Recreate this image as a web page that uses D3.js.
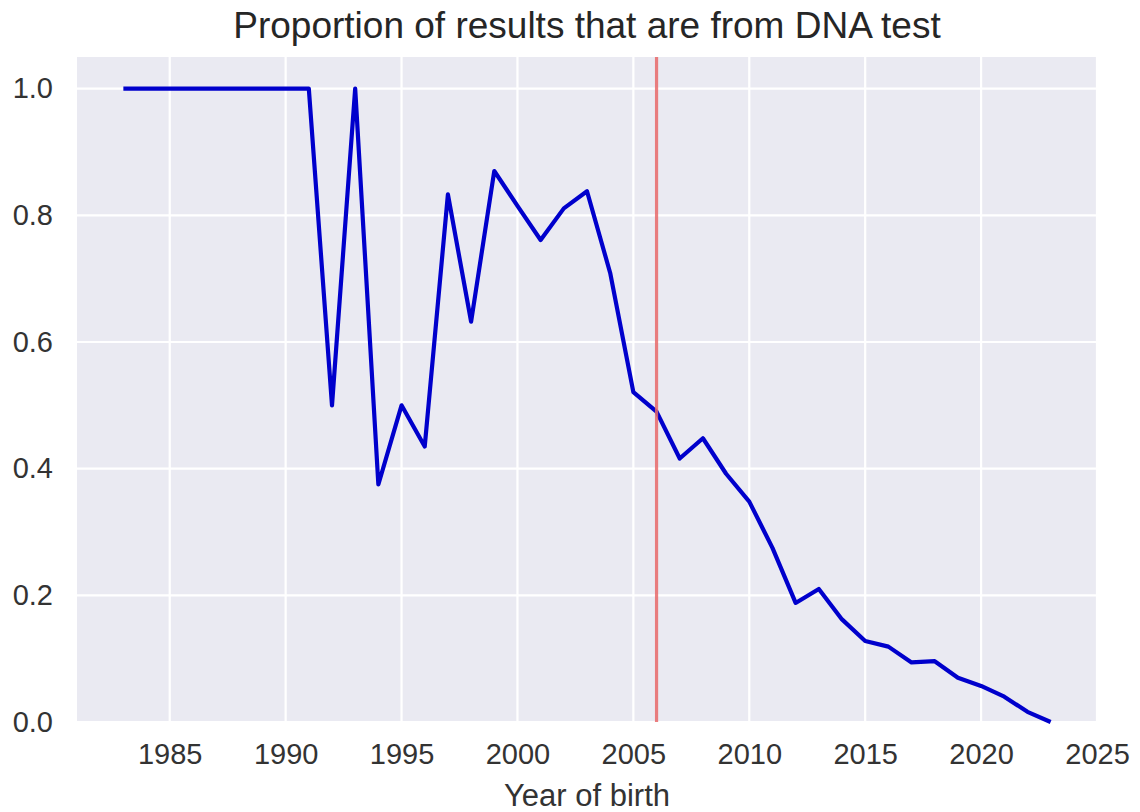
<!DOCTYPE html>
<html>
<head>
<meta charset="utf-8">
<script src="https://cdn.jsdelivr.net/npm/d3@7"></script>
<style>
  html, body { margin: 0; padding: 0; background: #ffffff; }
  svg { display: block; font-family: "Liberation Sans", Arial, Helvetica, sans-serif; }
</style>
</head>
<body>
<svg id="chart" width="1140" height="812"></svg>
<script>
// Year of birth and share of results that came from a DNA test
const years = [1983, 1984, 1985, 1986, 1987, 1988, 1989, 1990, 1991, 1992,
               1993, 1994, 1995, 1996, 1997, 1998, 1999, 2000, 2001, 2002,
               2003, 2004, 2005, 2006, 2007, 2008, 2009, 2010, 2011, 2012,
               2013, 2014, 2015, 2016, 2017, 2018, 2019, 2020, 2021, 2022, 2023];
const proportion = [1.0, 1.0, 1.0, 1.0, 1.0, 1.0, 1.0, 1.0, 1.0, 0.5,
                    1.0, 0.375, 0.5, 0.435, 0.833, 0.632, 0.87, 0.815, 0.761, 0.811,
                    0.838, 0.709, 0.521, 0.49, 0.416, 0.448, 0.392, 0.348, 0.275, 0.188,
                    0.21, 0.162, 0.128, 0.119, 0.094, 0.096, 0.07, 0.057, 0.04, 0.016, 0.0];
const xTicks = [1985, 1990, 1995, 2000, 2005, 2010, 2015, 2020, 2025];
const yTicks = [0.0, 0.2, 0.4, 0.6, 0.8, 1.0];
const markerYear = 2006;

const svg = d3.select("#chart");
const margin = { left: 77, right: 43, top: 57, bottom: 90 };
const W = 1140, H = 812;
const iw = W - margin.left - margin.right;
const ih = H - margin.top - margin.bottom;

const x = d3.scaleLinear().domain([1981, 2025]).range([margin.left, margin.left + iw]);
const y = d3.scaleLinear().domain([0, 1.05]).range([margin.top + ih, margin.top]);

// plot background
svg.append("rect")
  .attr("x", margin.left).attr("y", margin.top)
  .attr("width", iw).attr("height", ih)
  .attr("fill", "#eaeaf2");

// grid
const grid = svg.append("g");
grid.selectAll("line.vx").data(xTicks).join("line")
  .attr("x1", d => x(d)).attr("x2", d => x(d))
  .attr("y1", margin.top).attr("y2", margin.top + ih)
  .attr("stroke", "#ffffff").attr("stroke-width", 2.2);
grid.selectAll("line.hy").data(yTicks).join("line")
  .attr("x1", margin.left).attr("x2", margin.left + iw)
  .attr("y1", d => y(d)).attr("y2", d => y(d))
  .attr("stroke", "#ffffff").attr("stroke-width", 2.2);

// axes (labels only)
const xAxis = d3.axisBottom(x).tickValues(xTicks).tickFormat(d3.format("d")).tickSize(0).tickPadding(21);
const yAxis = d3.axisLeft(y).tickValues(yTicks).tickFormat(d3.format(".1f")).tickSize(0).tickPadding(24);

const gx = svg.append("g").attr("transform", `translate(0,${margin.top + ih})`).call(xAxis);
const gy = svg.append("g").attr("transform", `translate(${margin.left},0)`).call(yAxis);
[gx, gy].forEach(g => {
  g.select(".domain").remove();
  g.selectAll("text")
    .attr("fill", "#333333")
    .style("font-size", "29px")
    .style("font-family", "'Liberation Sans', Arial, sans-serif");
});

// data line
const line = d3.line()
  .x((d, i) => x(years[i]))
  .y(d => y(d));
svg.append("path")
  .datum(proportion)
  .attr("d", line)
  .attr("fill", "none")
  .attr("stroke", "#0000cc")
  .attr("stroke-width", 4.2)
  .attr("stroke-linejoin", "round");

// reference year
svg.append("line")
  .attr("x1", x(markerYear)).attr("x2", x(markerYear))
  .attr("y1", margin.top).attr("y2", margin.top + ih)
  .attr("stroke", "#e8686a").attr("stroke-opacity", 0.85)
  .attr("stroke-width", 3.2);

// title
svg.append("text")
  .attr("x", margin.left + iw / 2).attr("y", 38)
  .attr("text-anchor", "middle")
  .attr("fill", "#262626")
  .style("font-size", "37px")
  .text("Proportion of results that are from DNA test");

// x label
svg.append("text")
  .attr("x", margin.left + iw / 2).attr("y", 806)
  .attr("text-anchor", "middle")
  .attr("fill", "#333333")
  .style("font-size", "31px")
  .text("Year of birth");
</script>
</body>
</html>
